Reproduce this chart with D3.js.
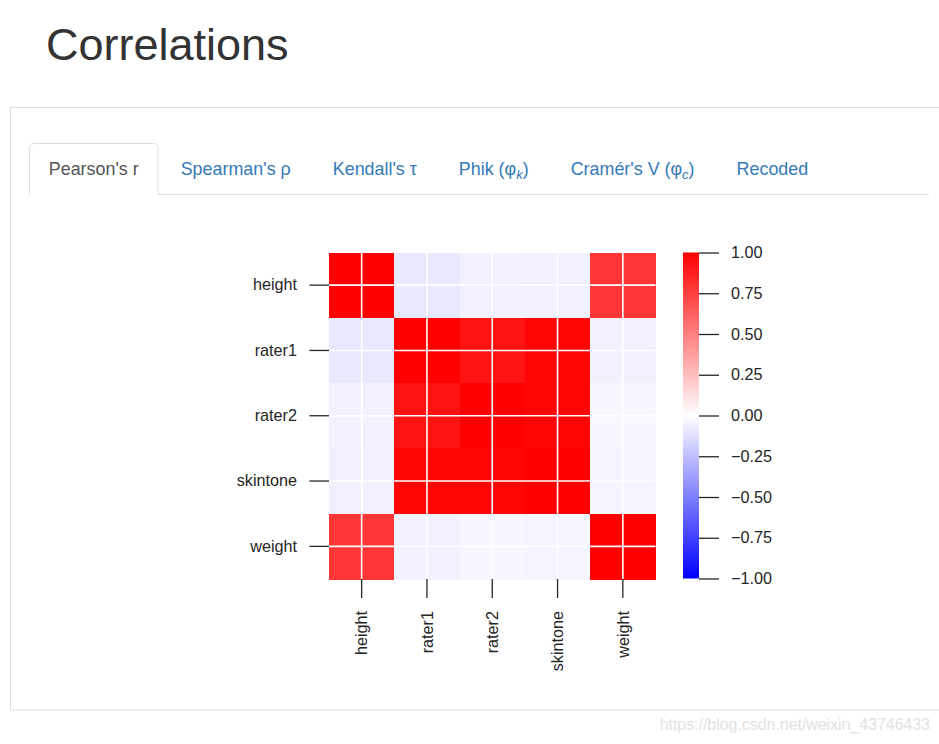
<!DOCTYPE html>
<meta charset="utf-8">
<title>Correlations</title>
<style>
body {
  margin: 0;
  background: #fff;
}
svg {
  display: block;
  font-family: "Liberation Sans", Arial, sans-serif;
}
.axis text {
  font-size: 16.2px;
  fill: #262626;
}
.axis line {
  stroke: #262626;
  stroke-width: 1.3;
}
.tab {
  font-size: 17.9px;
  fill: #337ab7;
}
.tab.active {
  fill: #555;
}
</style>
<body>
<svg width="939" height="744"></svg>

<script src="https://d3js.org/d3.v7.min.js"></script>
<script>
// variables of the correlation matrix (Pearson's r)
var variables = ["height", "rater1", "rater2", "skintone", "weight"];

// one row per variable, columns in the same order
var height   = [1.00, -0.09, -0.05, -0.06, 0.79];
var rater1   = [-0.09, 1.00, 0.93, 0.98, -0.05];
var rater2   = [-0.05, 0.93, 1.00, 0.98, -0.03];
var skintone = [-0.06, 0.98, 0.98, 1.00, -0.04];
var weight   = [0.79, -0.05, -0.03, -0.04, 1.00];

var colorbarTicks = [-1, -0.75, -0.5, -0.25, 0, 0.25, 0.5, 0.75, 1];

// "|" marks the italic subscript part
var tabs = ["Pearson's r", "Spearman's ρ", "Kendall's τ", "Phik (φ|k|)", "Cramér's V (φ|c|)", "Recoded"];

var matrix = [height, rater1, rater2, skintone, weight];

var svg = d3.select("svg");

// page title
svg.append("text")
    .attr("x", 46)
    .attr("y", 60)
    .style("font-size", "45px")
    .style("fill", "#333")
    .text("Correlations");

// panel
svg.append("rect")
    .attr("x", 10.5)
    .attr("y", 107.5)
    .attr("width", 960)
    .attr("height", 602.5)
    .attr("fill", "none")
    .attr("stroke", "#ddd");

// tabs, laid out one after the other like bootstrap nav-tabs
var tabX = 29;
var tabG = svg.append("g");
var activeEnd = 0;
tabs.forEach(function(label, i) {
  var parts = label.split("|");
  var t = tabG.append("text")
      .attr("class", "tab" + (i == 0 ? " active" : ""))
      .attr("x", tabX + 1 + 18.75)
      .attr("y", 174.5);
  t.append("tspan").text(parts[0]);
  if (parts.length > 1) {
    t.append("tspan")
        .attr("dy", 4)
        .style("font-size", "13px")
        .style("font-style", "italic")
        .text(parts[1]);
    t.append("tspan").attr("dy", -4).text(parts[2]);
  }
  var w = t.node().getComputedTextLength() + 37.5 + 2;
  if (i == 0) activeEnd = tabX + w;
  tabX += w + 2.5;
});

tabG.append("path")
    .attr("d", "M29.5,194.5V148q0,-4.5 4.5,-4.5H" + (activeEnd - 5) +
               "q4.5,0 4.5,4.5V194.5H929")
    .attr("fill", "none")
    .attr("stroke", "#ddd");

// heatmap
var x = d3.scaleBand().domain(variables).range([329, 655.5]);
var y = d3.scaleBand().domain(variables).range([252.5, 579]);

// matplotlib "bwr" colormap
var color = d3.scaleLinear()
    .domain([-1, 0, 1])
    .range(["#0000ff", "#ffffff", "#ff0000"]);

var cells = [];
matrix.forEach(function(row, i) {
  row.forEach(function(v, j) {
    cells.push({row: variables[i], col: variables[j], value: v});
  });
});

svg.append("g")
  .selectAll("rect")
  .data(cells)
  .enter().append("rect")
    .attr("x", function(d) { return x(d.col); })
    .attr("y", function(d) { return y(d.row); })
    .attr("width", x.bandwidth() + 0.5)
    .attr("height", y.bandwidth() + 0.5)
    .attr("shape-rendering", "crispEdges")
    .style("fill", function(d) { return color(d.value); })
  .append("title")
    .text(function(d) { return d.row + " / " + d.col + ": " + d.value; });

// white grid lines through the cell centres
var grid = svg.append("g")
    .attr("stroke", "#fff")
    .attr("stroke-width", 1.6);

grid.selectAll(".gx")
  .data(variables)
  .enter().append("line")
    .attr("x1", function(d) { return x(d) + x.bandwidth() / 2; })
    .attr("x2", function(d) { return x(d) + x.bandwidth() / 2; })
    .attr("y1", y.range()[0])
    .attr("y2", y.range()[1]);

grid.selectAll(".gy")
  .data(variables)
  .enter().append("line")
    .attr("y1", function(d) { return y(d) + y.bandwidth() / 2; })
    .attr("y2", function(d) { return y(d) + y.bandwidth() / 2; })
    .attr("x1", x.range()[0])
    .attr("x2", x.range()[1]);

// y axis
var yAxis = svg.append("g")
    .attr("class", "axis")
    .attr("transform", "translate(329,0)")
    .call(d3.axisLeft(y).tickSize(19.5).tickPadding(12.5));
yAxis.select(".domain").remove();
yAxis.selectAll("text").attr("font-family", null).attr("font-size", null);

// x axis, labels turned upright
var xAxis = svg.append("g")
    .attr("class", "axis")
    .attr("transform", "translate(0,579)")
    .call(d3.axisBottom(x).tickSize(19));
xAxis.select(".domain").remove();
xAxis.selectAll("text")
    .attr("font-family", null)
    .attr("font-size", null)
    .attr("y", 0)
    .attr("x", -32)
    .attr("dy", "0.35em")
    .attr("transform", "rotate(-90)")
    .style("text-anchor", "end");

// colour bar
var cb = d3.scaleLinear().domain([-1, 1]).range([578.5, 252.5]);

var grad = svg.append("defs").append("linearGradient")
    .attr("id", "bwr")
    .attr("x1", 0).attr("y1", 1)
    .attr("x2", 0).attr("y2", 0);
grad.selectAll("stop")
  .data(color.domain())
  .enter().append("stop")
    .attr("offset", function(d) { return (d + 1) / 2; })
    .attr("stop-color", function(d) { return color(d); });

svg.append("rect")
    .attr("x", 683)
    .attr("y", cb.range()[1])
    .attr("width", 16)
    .attr("height", cb.range()[0] - cb.range()[1])
    .style("fill", "url(#bwr)");

var cbAxis = svg.append("g")
    .attr("class", "axis")
    .attr("transform", "translate(699,0)")
    .call(d3.axisRight(cb).tickValues(colorbarTicks).tickSize(20).tickPadding(12)
      .tickFormat(d3.format(".2f")));
cbAxis.select(".domain").remove();
cbAxis.selectAll("text").attr("font-family", null).attr("font-size", null);

// watermark
svg.append("text")
    .attr("x", 930)
    .attr("y", 730)
    .attr("text-anchor", "end")
    .style("font-size", "15.9px")
    .style("fill", "#e2e2e2")
    .text("https://blog.csdn.net/weixin_43746433");
</script>
</body>
